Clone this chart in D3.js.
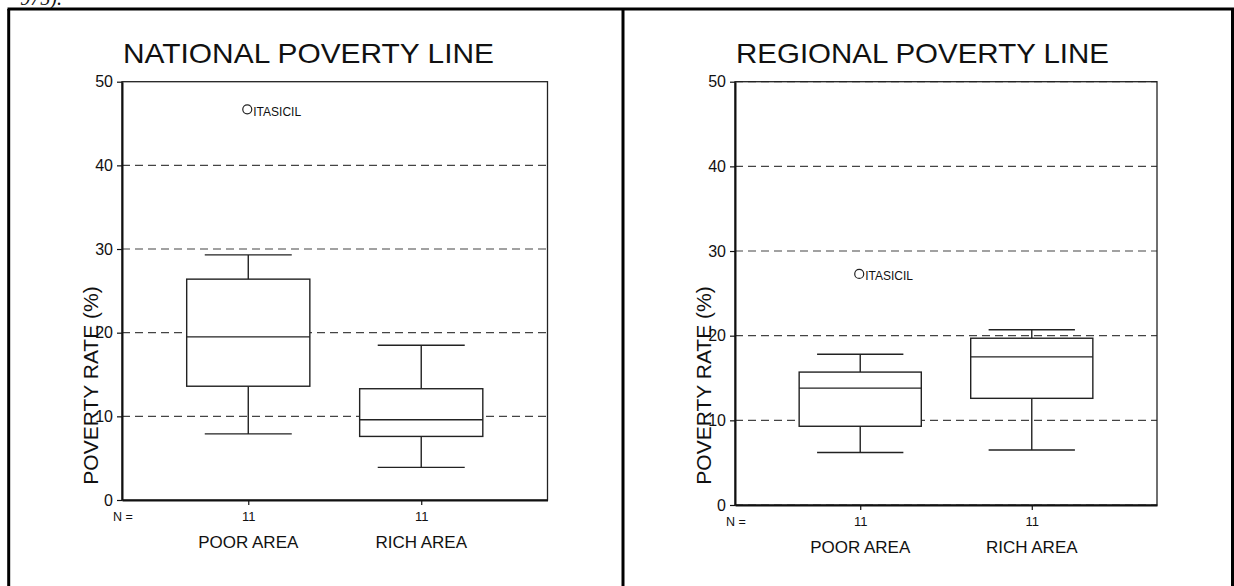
<!DOCTYPE html>
<html>
<head>
<meta charset="utf-8">
<script src="https://cdn.jsdelivr.net/npm/d3@7"></script>
<style>
  body { margin: 0; background: #fff; }
  svg { display: block; }
  text { font-family: "Liberation Sans", Arial, sans-serif; fill: #111; }
</style>
</head>
<body>
<div class="chart"></div>
<script>
// data
const categories = ["POOR AREA", "RICH AREA"];
const counts = [11, 11];
const yTicks = [0, 10, 20, 30, 40, 50];

const nationalMin = [7.9, 3.9];
const nationalQ1 = [13.6, 7.6];
const nationalMedian = [19.5, 9.6];
const nationalQ3 = [26.4, 13.3];
const nationalMax = [29.3, 18.5];
const nationalOutliers = [{ cat: "POOR AREA", value: 46.7, label: "ITASICIL" }];

const regionalMin = [6.2, 6.5];
const regionalQ1 = [9.3, 12.6];
const regionalMedian = [13.8, 17.5];
const regionalQ3 = [15.7, 19.7];
const regionalMax = [17.8, 20.7];
const regionalOutliers = [{ cat: "POOR AREA", value: 27.3, label: "ITASICIL" }];

const W = 1234, H = 586;

const svg = d3.select(".chart").append("svg")
  .attr("width", W)
  .attr("height", H);

// bit of the previous line of the document, cut off at the top
svg.append("text")
  .attr("x", 62).attr("y", 5)
  .attr("text-anchor", "end")
  .style("font-family", "'Liberation Serif', serif")
  .style("font-style", "italic")
  .style("font-size", "20px")
  .text("975).");

// table cells
const frame = svg.append("g").attr("stroke", "#000").attr("stroke-width", 3).attr("fill", "none");
frame.append("line").attr("x1", 7.5).attr("x2", W).attr("y1", 9).attr("y2", 9);
frame.append("line").attr("x1", 8.7).attr("x2", 8.7).attr("y1", 9).attr("y2", H);
frame.append("line").attr("x1", 623).attr("x2", 623).attr("y1", 9).attr("y2", H);
frame.append("line").attr("x1", 1232.5).attr("x2", 1232.5).attr("y1", 9).attr("y2", H);

const panels = [
  {
    title: "NATIONAL POVERTY LINE",
    min: nationalMin, q1: nationalQ1, median: nationalMedian, q3: nationalQ3, max: nationalMax,
    outliers: nationalOutliers,
    grid: [10, 20, 30, 40],
    left: 122, right: 547.5, top: 81.7, bottom: 500, titleLen: 371
  },
  {
    title: "REGIONAL POVERTY LINE",
    min: regionalMin, q1: regionalQ1, median: regionalMedian, q3: regionalQ3, max: regionalMax,
    outliers: regionalOutliers,
    grid: [0, 10, 20, 30, 40, 50],
    left: 735, right: 1157, top: 81.7, bottom: 505, titleLen: 373
  }
];

panels.forEach(p => {
  const g = svg.append("g");

  const y = d3.scaleLinear().domain([0, 50]).range([p.bottom, p.top]);
  const x = d3.scalePoint().domain(categories).range([p.left, p.right]).padding(0.73);
  const step = x.step();
  const boxW = step * 0.712;
  const capW = step * 0.503;

  // title
  g.append("text")
    .attr("x", p.left + 1)
    .attr("y", 63)
    .attr("textLength", p.titleLen)
    .attr("lengthAdjust", "spacingAndGlyphs")
    .style("font-size", "28px")
    .text(p.title);

  // dashed reference lines
  g.selectAll(".grid")
    .data(p.grid)
    .join("line")
    .attr("class", "grid")
    .attr("x1", p.left).attr("x2", p.right)
    .attr("y1", d => y(d)).attr("y2", d => y(d))
    .attr("stroke", "#444")
    .attr("stroke-width", 1.2)
    .attr("stroke-dasharray", "8,5");

  // plot frame
  g.append("rect")
    .attr("x", p.left).attr("y", p.top)
    .attr("width", p.right - p.left).attr("height", p.bottom - p.top)
    .attr("fill", "none")
    .attr("stroke", "#222")
    .attr("stroke-width", 1.3);

  // y axis
  const yAxis = g.append("g")
    .attr("transform", `translate(${p.left},0)`)
    .call(d3.axisLeft(y).tickValues(yTicks).tickSize(5).tickPadding(4).tickSizeOuter(0));
  yAxis.select(".domain").attr("stroke", "#111").attr("stroke-width", 2);
  yAxis.selectAll(".tick line").attr("stroke", "#111").attr("stroke-width", 1.2);
  yAxis.selectAll("text")
    .style("font-size", "16px")
    .style("font-family", "'Liberation Sans', Arial, sans-serif")
    .attr("fill", "#111");

  // x axis with the N counts
  const xAxis = g.append("g")
    .attr("transform", `translate(0,${p.bottom})`)
    .call(d3.axisBottom(x).tickSize(5).tickPadding(6.3).tickSizeOuter(0)
      .tickFormat((d, i) => counts[i]));
  xAxis.select(".domain").attr("stroke", "#111").attr("stroke-width", 2);
  xAxis.selectAll(".tick line").attr("stroke", "#111").attr("stroke-width", 1.2);
  xAxis.selectAll("text")
    .style("font-size", "13px")
    .style("font-family", "'Liberation Sans', Arial, sans-serif")
    .attr("fill", "#111");

  g.append("text")
    .attr("x", p.left - 9)
    .attr("y", p.bottom + 20.5)
    .style("font-size", "12.5px")
    .text("N =");

  // category names
  g.selectAll(".cat")
    .data(categories)
    .join("text")
    .attr("class", "cat")
    .attr("x", d => x(d))
    .attr("y", p.bottom + 48)
    .attr("text-anchor", "middle")
    .style("font-size", "17px")
    .text(d => d);

  // y axis title
  g.append("text")
    .attr("transform", `translate(${p.left - 24},385.5) rotate(-90)`)
    .attr("text-anchor", "middle")
    .style("font-size", "21px")
    .text("POVERTY RATE (%)");

  // boxes
  const boxes = categories.map((c, i) => ({
    cat: c, min: p.min[i], q1: p.q1[i], median: p.median[i], q3: p.q3[i], max: p.max[i]
  }));

  const bx = g.selectAll(".box")
    .data(boxes)
    .join("g")
    .attr("class", "box")
    .attr("stroke", "#222")
    .attr("stroke-width", 1.4)
    .attr("fill", "none");

  bx.append("line")
    .attr("x1", d => x(d.cat)).attr("x2", d => x(d.cat))
    .attr("y1", d => y(d.max)).attr("y2", d => y(d.q3));
  bx.append("line")
    .attr("x1", d => x(d.cat)).attr("x2", d => x(d.cat))
    .attr("y1", d => y(d.q1)).attr("y2", d => y(d.min));
  bx.append("line")
    .attr("x1", d => x(d.cat) - capW / 2).attr("x2", d => x(d.cat) + capW / 2)
    .attr("y1", d => y(d.max)).attr("y2", d => y(d.max));
  bx.append("line")
    .attr("x1", d => x(d.cat) - capW / 2).attr("x2", d => x(d.cat) + capW / 2)
    .attr("y1", d => y(d.min)).attr("y2", d => y(d.min));
  bx.append("rect")
    .attr("x", d => x(d.cat) - boxW / 2)
    .attr("y", d => y(d.q3))
    .attr("width", boxW)
    .attr("height", d => y(d.q1) - y(d.q3))
    .attr("fill", "#fff");
  bx.append("line")
    .attr("x1", d => x(d.cat) - boxW / 2).attr("x2", d => x(d.cat) + boxW / 2)
    .attr("y1", d => y(d.median)).attr("y2", d => y(d.median));

  // outliers
  const out = g.selectAll(".outlier")
    .data(p.outliers)
    .join("g")
    .attr("class", "outlier");
  out.append("circle")
    .attr("cx", d => x(d.cat) - 1)
    .attr("cy", d => y(d.value))
    .attr("r", 4.5)
    .attr("fill", "none")
    .attr("stroke", "#222")
    .attr("stroke-width", 1.2);
  out.append("text")
    .attr("x", d => x(d.cat) + 5)
    .attr("y", d => y(d.value) + 6.5)
    .style("font-size", "12px")
    .text(d => d.label);
});
</script>
</body>
</html>
